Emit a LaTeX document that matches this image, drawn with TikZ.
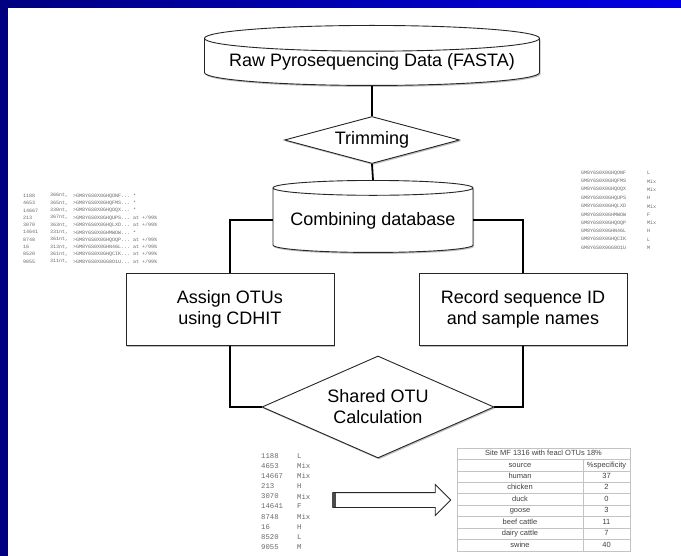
\documentclass[tikz,border=0pt]{standalone}
\usepackage{fontspec}
\setmainfont{Liberation Sans}
\setmonofont{Liberation Mono}
\usepackage{tikz}
\usetikzlibrary{shapes.geometric,shapes.arrows,shadows,positioning}
\definecolor{navy}{RGB}{0,0,128}
\definecolor{slideblue}{RGB}{0,0,228}
\definecolor{listgray}{RGB}{105,105,105}
\definecolor{gridgray}{RGB}{195,195,195}
\tikzset{
  shd/.style={drop shadow={shadow xshift=1pt,shadow yshift=-1.5pt,opacity=0.25,fill=black}},
  dbase/.style={cylinder,shape border rotate=90,aspect=0.09,draw=black!85,line width=0.9pt,fill=white,inner sep=0pt,shd,font=\fontsize{18}{21}\selectfont},
  proc/.style={rectangle,draw=black!85,line width=0.9pt,fill=white,minimum width=208pt,minimum height=72pt,align=center,shd,font=\fontsize{18}{21}\selectfont},
  dec/.style={diamond,draw=black!85,line width=0.9pt,fill=white,inner sep=0pt,align=center,shd,font=\fontsize{18}{21}\selectfont},
  link/.style={line width=1.8pt,black},
  lst/.style={text=listgray,anchor=west,inner sep=0pt},
  cell/.style={font=\fontsize{7.5}{9}\selectfont,text=black!75,inner sep=0pt,text height=5.4pt,text depth=1.6pt},
  grid/.style={draw=gridgray,line width=0.6pt}
}
\newcommand{\hitstar}{*}
\newcommand{\hitsim}{at +/99\%}

\begin{document}
\begin{tikzpicture}[x=1pt,y=-1pt]
\useasboundingbox (0,0) rectangle (681,556);
\fill[white] (0,0) rectangle (681,556);
\fill[navy] (0,0) rectangle (8,556);
\shade[left color=navy,right color=slideblue] (0,0) rectangle (681,7.5);
% flow chart
\node[dbase,minimum width=335pt,minimum height=60pt,anchor=north] (raw) at (372,25) {Raw Pyrosequencing Data (FASTA)};
\node[dec,minimum width=175pt,minimum height=47pt,aspect=3.7] (trim) at (372,140) {Trimming};
\node[dbase,minimum width=200pt,minimum height=72pt,anchor=north] (comb) at (373,180) {Combining database};
\node[proc] (otu) at (230,309.5) {Assign OTUs\\using CDHIT};
\node[proc] (rec) at (523,309.5) {Record sequence ID\\and sample names};
\node[dec,minimum width=232pt,minimum height=102pt,aspect=2.27] (shared) at (378,407) {Shared OTU\\Calculation};
\draw[link] (raw.south) -- (trim.north);
\draw[link] (trim.south) -- (comb.north);
\draw[link] (comb.west) -| (otu.north);
\draw[link] (comb.east) -| (rec.north);
\draw[link] (otu.south) |- (shared.west);
\draw[link] (rec.south) |- (shared.east);
% cluster output
\foreach \cid/\cnt/\rid/\ctag [count=\i from 0] in {1188/366/GHQONF/\hitstar,4653/365/GHQFMS/\hitstar,14667/330/GHQOQX/\hitstar,213/367/GHQUPS/\hitsim,3070/363/GHQLXD/\hitsim,14641/331/GHMWOW/\hitstar,8748/361/GHQOQP/\hitsim,16/313/GHN46L/\hitsim,8520/361/GHQCIK/\hitsim,9055/311/GG8O1U/\hitsim}{
  \node[lst,font=\ttfamily\fontsize{5}{6}\selectfont] (cn-\i) at (23,{195.7+\i*7.33}) {\cid};
  \node[lst,font=\ttfamily\fontsize{5}{6}\selectfont] (cl-\i) at (50,{195.7+\i*7.33}) {\cnt nt,};
  \node[lst,font=\ttfamily\fontsize{5}{6}\selectfont] (cr-\i) at (73,{195.7+\i*7.33}) {>GM8Y6S0X0\rid... \ctag};
}
% sample names
\foreach \rid/\smp [count=\i from 0] in {GHQONF/L,GHQFMS/Mix,GHQOQX/Mix,GHQUPS/H,GHQLXD/Mix,GHMWOW/F,GHQOQP/Mix,GHN46L/H,GHQCIK/L,GG8O1U/M}{
  \node[lst,font=\ttfamily\fontsize{5}{6}\selectfont] (sr-\i) at (581,{173+\i*8.33}) {GM8Y6S0X0\rid};
  \node[lst,font=\ttfamily\fontsize{5}{6}\selectfont] (ss-\i) at (647,{173+\i*8.33}) {\smp};
}
% shared OTU list
\foreach \cid/\smp [count=\i from 0] in {1188/L,4653/Mix,14667/Mix,213/H,3070/Mix,14641/F,8748/Mix,16/H,8520/L,9055/M}{
  \node[lst,font=\ttfamily\fontsize{7.3}{9}\selectfont] (on-\i) at (261,{456+\i*10.1}) {\cid};
  \node[lst,font=\ttfamily\fontsize{7.3}{9}\selectfont] (os-\i) at (297,{456+\i*10.1}) {\smp};
}
\node[single arrow,draw=black!85,line width=0.8pt,fill=white,minimum height=118pt,minimum width=30pt,single arrow head extend=8pt,inner xsep=0pt,inner ysep=7pt] (arr) at (388,500) {};
\fill[black!70] (arr.west) ++(0,-7) rectangle ++(3.5,14);
% specificity table
\draw[grid] (457,448) rectangle (630,551);
\foreach \k in {1,...,8} \draw[grid] (457,{448+\k*11.44}) -- (630,{448+\k*11.44});
\draw[grid] (583,459.44) -- (583,551);
\node[cell] (tbt) at (543.5,453.7) {Site MF 1316 with feacl OTUs 18\%};
\foreach \src/\val [count=\r] in {source/\%specificity,human/37,chicken/2,duck/0,goose/3,beef cattle/11,dairy cattle/7,swine/40}{
  \node[cell] (src-\r) at (520,{448+(\r+0.5)*11.44}) {\src};
  \node[cell] (val-\r) at (606.5,{448+(\r+0.5)*11.44}) {\val};
}
\end{tikzpicture}
\end{document}
